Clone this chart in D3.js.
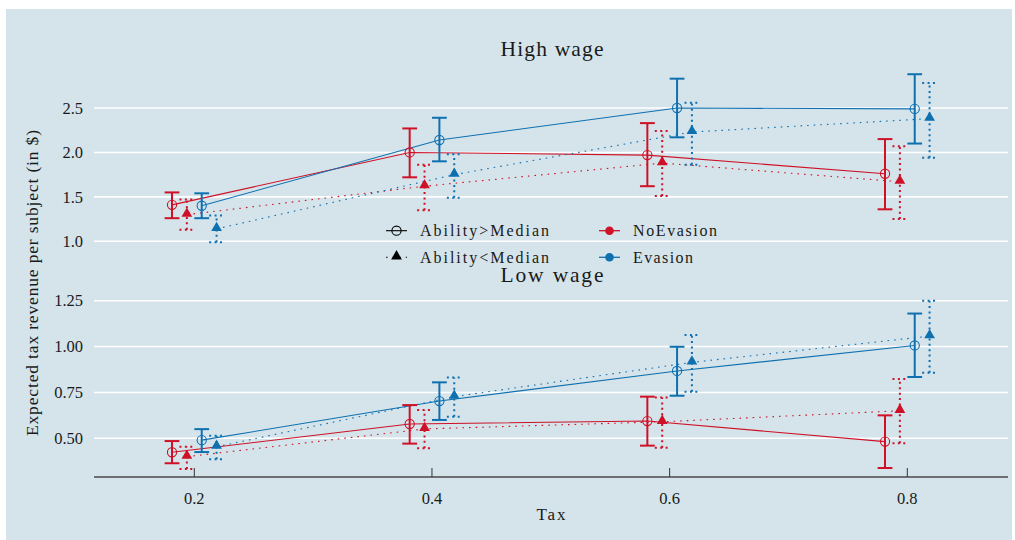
<!DOCTYPE html>
<html>
<head>
<meta charset="utf-8">
<script src="https://cdn.jsdelivr.net/npm/d3@7"></script>
<style>
  html, body { margin: 0; padding: 0; background: #ffffff; }
  svg { display: block; }
  text { font-family: "Liberation Serif", "DejaVu Serif", serif; fill: #1a1a1a; }
</style>
</head>
<body>
<svg id="chart" width="1015" height="540"></svg>
<script>
// ---- data -------------------------------------------------------------
const taxes = [0.2, 0.4, 0.6, 0.8];
const xTicks = [0.2, 0.4, 0.6, 0.8];
const xTickLabels = ["0.2", "0.4", "0.6", "0.8"];

const highTicks = [1.0, 1.5, 2.0, 2.5];
const highTickLabels = ["1.0", "1.5", "2.0", "2.5"];
const lowTicks = [0.5, 0.75, 1.0, 1.25];
const lowTickLabels = ["0.50", "0.75", "1.00", "1.25"];

// High wage: mean and 95% bounds by treatment / ability group
const highNoEvAboveMean = [1.41, 2.00, 1.97, 1.76];
const highNoEvAboveLo   = [1.26, 1.72, 1.62, 1.36];
const highNoEvAboveHi   = [1.55, 2.27, 2.33, 2.15];
const highNoEvBelowMean = [1.30, 1.62, 1.88, 1.67];
const highNoEvBelowLo   = [1.13, 1.35, 1.51, 1.25];
const highNoEvBelowHi   = [1.47, 1.86, 2.24, 2.07];
const highEvAboveMean   = [1.40, 2.14, 2.50, 2.49];
const highEvAboveLo     = [1.26, 1.90, 2.17, 2.10];
const highEvAboveHi     = [1.54, 2.39, 2.83, 2.88];
const highEvBelowMean   = [1.14, 1.75, 2.23, 2.38];
const highEvBelowLo     = [0.99, 1.49, 1.86, 1.94];
const highEvBelowHi     = [1.29, 1.98, 2.56, 2.78];

// Low wage
const lowNoEvAboveMean = [0.424, 0.578, 0.594, 0.482];
const lowNoEvAboveLo   = [0.364, 0.471, 0.460, 0.338];
const lowNoEvAboveHi   = [0.485, 0.681, 0.727, 0.625];
const lowNoEvBelowMean = [0.400, 0.551, 0.590, 0.650];
const lowNoEvBelowLo   = [0.333, 0.446, 0.449, 0.473];
const lowNoEvBelowHi   = [0.454, 0.654, 0.723, 0.823];
const lowEvAboveMean   = [0.490, 0.703, 0.867, 1.006];
const lowEvAboveLo     = [0.425, 0.600, 0.732, 0.834];
const lowEvAboveHi     = [0.550, 0.805, 0.999, 1.180];
const lowEvBelowMean   = [0.454, 0.727, 0.914, 1.057];
const lowEvBelowLo     = [0.386, 0.618, 0.754, 0.857];
const lowEvBelowHi     = [0.514, 0.832, 1.063, 1.250];

const treatments = ["NoEvasion", "Evasion"];
const abilities = ["Ability>Median", "Ability<Median"];

// ---- styling ----------------------------------------------------------
const colors = { NoEvasion: "#ce1126", Evasion: "#0f70b0" };
const bg = "#d5e4eb";
const dodge = [-0.01875, -0.00625, 0.00625, 0.01875];

const svg = d3.select("#chart");
svg.append("rect").attr("x", 6).attr("y", 9).attr("width", 1006).attr("height", 531).attr("fill", bg);

const x = d3.scaleLinear().domain([0.2, 0.8]).range([194.3, 907.3]);
const yHigh = d3.scaleLinear().domain([1.0, 2.5]).range([241.3, 108]);
const yLow = d3.scaleLinear().domain([0.5, 1.25]).range([438.3, 300.7]);
const gridX0 = 94, gridX1 = 1008;

function buildGroups(m) {
  return [
    { treat: "NoEvasion", ab: 0, mean: m[0], lo: m[1], hi: m[2], d: dodge[0] },
    { treat: "NoEvasion", ab: 1, mean: m[3], lo: m[4], hi: m[5], d: dodge[1] },
    { treat: "Evasion",   ab: 0, mean: m[6], lo: m[7], hi: m[8], d: dodge[2] },
    { treat: "Evasion",   ab: 1, mean: m[9], lo: m[10], hi: m[11], d: dodge[3] }
  ];
}

const highGroups = buildGroups([
  highNoEvAboveMean, highNoEvAboveLo, highNoEvAboveHi,
  highNoEvBelowMean, highNoEvBelowLo, highNoEvBelowHi,
  highEvAboveMean, highEvAboveLo, highEvAboveHi,
  highEvBelowMean, highEvBelowLo, highEvBelowHi]);
const lowGroups = buildGroups([
  lowNoEvAboveMean, lowNoEvAboveLo, lowNoEvAboveHi,
  lowNoEvBelowMean, lowNoEvBelowLo, lowNoEvBelowHi,
  lowEvAboveMean, lowEvAboveLo, lowEvAboveHi,
  lowEvBelowMean, lowEvBelowLo, lowEvBelowHi]);

const triangle = d3.symbol().type(d3.symbolTriangle).size(50);

function drawPanel(y, ticks, tickLabels, groups, title, titleY) {
  const g = svg.append("g");
  // horizontal grid
  g.selectAll("line.grid").data(ticks).join("line")
    .attr("x1", gridX0).attr("x2", gridX1)
    .attr("y1", d => y(d)).attr("y2", d => y(d))
    .attr("stroke", "#ffffff").attr("stroke-width", 1.6);
  // y tick labels
  g.selectAll("text.tick").data(ticks).join("text")
    .attr("x", 83).attr("y", d => y(d)).attr("dy", "0.35em")
    .attr("text-anchor", "end").attr("font-size", 16.5)
    .text((d, i) => tickLabels[i]);
  // facet title
  g.append("text").attr("x", 552).attr("y", titleY).attr("text-anchor", "middle")
    .attr("font-size", 21.5).attr("textLength", 103).attr("lengthAdjust", "spacing").text(title);

  const line = d3.line();
  groups.forEach(gr => {
    const pts = taxes.map((t, i) => [x(t + gr.d), y(gr.mean[i])]);
    g.append("path").attr("d", line(pts)).attr("fill", "none")
      .attr("stroke", colors[gr.treat]).attr("stroke-width", 1.1)
      .attr("stroke-dasharray", gr.ab === 1 ? "1.6,5" : null);
  });
  groups.forEach(gr => {
    taxes.forEach((t, i) => {
      const cx = x(t + gr.d);
      const dash = gr.ab === 1 ? "2,3.4" : null;
      const eb = g.append("g").attr("stroke", colors[gr.treat]).attr("stroke-width", 2)
        .attr("stroke-dasharray", dash).attr("fill", "none");
      eb.append("line").attr("x1", cx).attr("x2", cx).attr("y1", y(gr.lo[i])).attr("y2", y(gr.hi[i]));
      eb.append("line").attr("x1", cx - 7.4).attr("x2", cx + 7.4).attr("y1", y(gr.lo[i])).attr("y2", y(gr.lo[i]));
      eb.append("line").attr("x1", cx - 7.4).attr("x2", cx + 7.4).attr("y1", y(gr.hi[i])).attr("y2", y(gr.hi[i]));
    });
  });
  groups.forEach(gr => {
    taxes.forEach((t, i) => {
      const cx = x(t + gr.d), cy = y(gr.mean[i]);
      if (gr.ab === 0) {
        g.append("circle").attr("cx", cx).attr("cy", cy).attr("r", 4.6)
          .attr("fill", "none").attr("stroke", colors[gr.treat]).attr("stroke-width", 1.1);
      } else {
        g.append("path").attr("d", triangle()).attr("transform", `translate(${cx},${cy - 1})`)
          .attr("fill", colors[gr.treat]);
      }
    });
  });
}

drawPanel(yHigh, highTicks, highTickLabels, highGroups, "High wage", 56);
drawPanel(yLow, lowTicks, lowTickLabels, lowGroups, "Low wage", 282);

// x axis
const axisY = 477;
svg.append("line").attr("x1", gridX0).attr("x2", gridX1).attr("y1", axisY).attr("y2", axisY)
  .attr("stroke", "#4a4a4a").attr("stroke-width", 1.4);
svg.selectAll("line.xtick").data(xTicks).join("line")
  .attr("x1", d => x(d)).attr("x2", d => x(d)).attr("y1", axisY - 9).attr("y2", axisY)
  .attr("stroke", "#333333").attr("stroke-width", 1);
svg.selectAll("text.xlab").data(xTicks).join("text")
  .attr("x", d => x(d)).attr("y", 503.5).attr("text-anchor", "middle").attr("font-size", 16.5)
  .text((d, i) => xTickLabels[i]);

// axis titles
svg.append("text").attr("x", 551).attr("y", 520).attr("text-anchor", "middle")
  .attr("font-size", 17).attr("textLength", 29).attr("lengthAdjust", "spacing").text("Tax");
svg.append("text").attr("transform", "translate(38,283) rotate(-90)").attr("text-anchor", "middle")
  .attr("font-size", 17.5).attr("textLength", 306).attr("lengthAdjust", "spacing")
  .text("Expected tax revenue per subject (in $)");

// legend
const legRows = [230.7, 257.3];
const lg = svg.append("g");
abilities.forEach((label, i) => {
  const yy = legRows[i];
  if (i === 0) {
    lg.append("line").attr("x1", 386).attr("x2", 407).attr("y1", yy).attr("y2", yy)
      .attr("stroke", "#000").attr("stroke-width", 1.1);
    lg.append("circle").attr("cx", 396.5).attr("cy", yy).attr("r", 4.6)
      .attr("fill", "none").attr("stroke", "#000").attr("stroke-width", 1.1);
  } else {
    lg.append("line").attr("x1", 386).attr("x2", 407).attr("y1", yy).attr("y2", yy)
      .attr("stroke", "#000").attr("stroke-width", 1.1).attr("stroke-dasharray", "1.6,5");
    lg.append("path").attr("d", triangle()).attr("transform", `translate(396.5,${yy - 1})`).attr("fill", "#000");
  }
  lg.append("text").attr("x", 420).attr("y", yy + 5.4).attr("font-size", 16)
    .attr("textLength", 129).attr("lengthAdjust", "spacing").text(label);
});
const treatWidths = [84, 60];
treatments.forEach((t, i) => {
  const yy = legRows[i];
  lg.append("line").attr("x1", 599).attr("x2", 620).attr("y1", yy).attr("y2", yy)
    .attr("stroke", colors[t]).attr("stroke-width", 1.3);
  lg.append("circle").attr("cx", 609.5).attr("cy", yy).attr("r", 4.3).attr("fill", colors[t]);
  lg.append("text").attr("x", 633).attr("y", yy + 5.4).attr("font-size", 16)
    .attr("textLength", treatWidths[i]).attr("lengthAdjust", "spacing").text(t);
});
</script>
</body>
</html>
